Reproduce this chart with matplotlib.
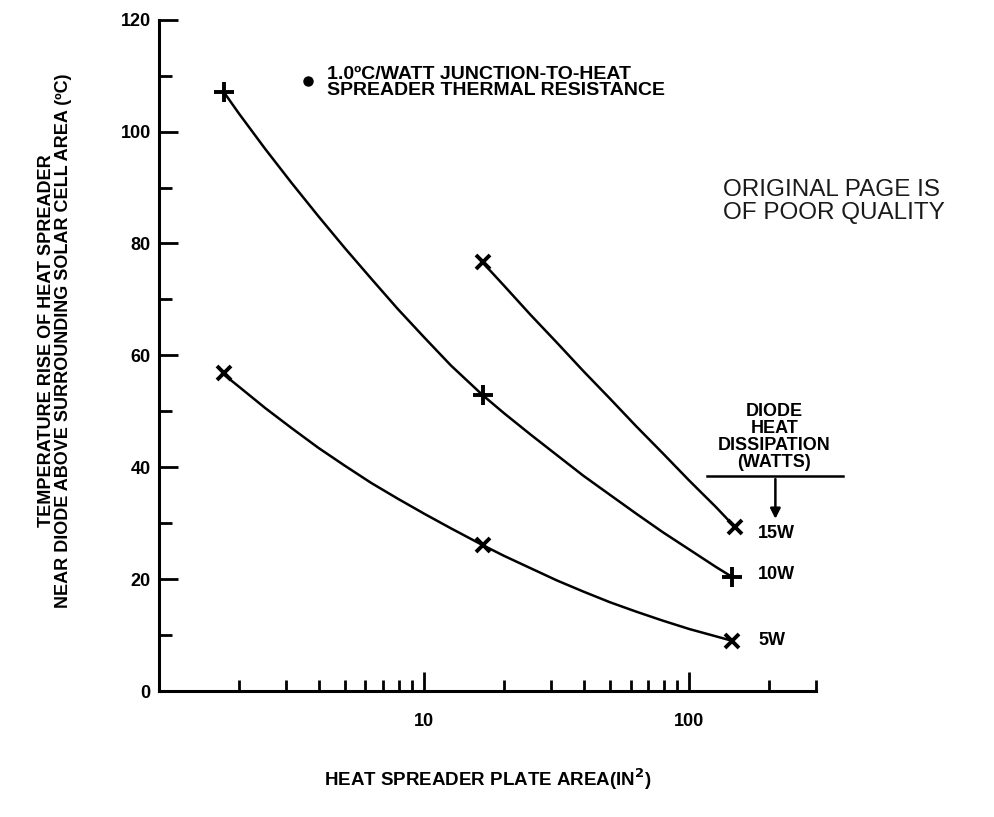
import matplotlib
matplotlib.use('Agg')
import matplotlib.pyplot as plt
from matplotlib.ticker import FixedLocator, NullFormatter

plt.rcParams['font.family'] = ['Liberation Sans Narrow', 'Liberation Sans', 'DejaVu Sans']
plt.rcParams['font.weight'] = 'bold'

# values (x = plate area in in^2, y = temperature rise in C)
marker_x = [1.75, 16.6, 145]
w10_marks = [107.1, 52.9, 20.4]
w15_marks_x = [16.6, 148]
w15_marks = [76.6, 29.4]
w5_marks = [56.8, 26.1, 9.0]

# traced points along each hand-drawn curve
w10_x = [1.75, 2.0, 2.51, 3.16, 3.98, 5.01, 6.31, 7.94, 10.0, 12.6, 16.6,
         19.95, 25.1, 31.6, 39.8, 50.1, 63.1, 79.4, 100, 125.9, 145]
w10_y = [107.1, 103.2, 96.9, 90.8, 84.9, 79.2, 73.7, 68.3, 63.2, 58.2, 52.9,
         49.7, 45.9, 42.2, 38.5, 35.1, 31.7, 28.4, 25.3, 22.2, 20.4]
w15_x = [16.6, 19.95, 25.1, 31.6, 39.8, 50.1, 63.1, 79.4, 100, 125.9, 148]
w15_y = [76.6, 72.5, 67.3, 62.3, 57.2, 52.3, 47.3, 42.5, 37.6, 32.9, 29.4]
w5_x = [1.73, 2.0, 2.51, 3.16, 3.98, 5.01, 6.31, 7.94, 10.0, 12.6, 16.6,
        19.95, 25.1, 31.6, 39.8, 50.1, 63.1, 79.4, 100, 125.9, 145]
w5_y = [56.8, 54.4, 50.6, 47.0, 43.5, 40.3, 37.2, 34.4, 31.7, 29.1, 26.1,
        24.2, 22.0, 19.8, 17.8, 15.9, 14.2, 12.6, 11.1, 9.8, 9.0]

curve_labels = ['15W', '10W', '5W']
label_y = [28.1, 20.9, 9.0]

x_major = [10, 100]
x_minor = [2, 3, 4, 5, 6, 7, 8, 9, 20, 30, 40, 50, 60, 70, 80, 90, 200, 300]
y_major = [0, 20, 40, 60, 80, 100, 120]
y_minor = [10, 30, 50, 70, 90, 110]

fig = plt.figure(figsize=(9.95, 8.17), dpi=100)
ax = fig.add_axes([0.16, 0.154, 0.66, 0.822])

ax.plot(w10_x, w10_y, color='black', lw=1.8)
ax.plot(w15_x, w15_y, color='black', lw=1.8)
ax.plot(w5_x, w5_y, color='black', lw=1.8)
ax.plot(marker_x, w10_marks, ls='none', marker='+', ms=14, mew=2.8, color='black')
ax.plot(w15_marks_x, w15_marks, ls='none', marker='x', ms=10, mew=2.8, color='black')
ax.plot(marker_x, w5_marks, ls='none', marker='x', ms=10, mew=2.8, color='black')

ax.set_xscale('log')
ax.set_xlim(1, 300)
ax.set_ylim(0, 120)
for s in ['top', 'right']:
    ax.spines[s].set_visible(False)
ax.spines['left'].set_linewidth(2.2)
ax.spines['bottom'].set_linewidth(2.2)

ax.xaxis.set_major_locator(FixedLocator(x_major))
ax.xaxis.set_minor_locator(FixedLocator(x_minor))
ax.xaxis.set_minor_formatter(NullFormatter())
ax.set_xticklabels([str(v) for v in x_major])
ax.set_yticks(y_major)
ax.set_yticks(y_minor, minor=True)
ax.tick_params(axis='x', which='major', direction='in', length=14, width=2, pad=16, labelsize=13)
ax.tick_params(axis='x', which='minor', direction='in', length=8, width=2)
ax.tick_params(axis='y', which='major', direction='in', length=14, width=2, pad=6, labelsize=13)
ax.tick_params(axis='y', which='minor', direction='in', length=9, width=2)

ax.set_xlabel('HEAT SPREADER PLATE AREA(IN$^{\\mathbf{2}}$)', fontsize=13.5, fontweight='bold', labelpad=26)
fig.text(0.055, 0.583, 'TEMPERATURE RISE OF HEAT SPREADER\nNEAR DIODE ABOVE SURROUNDING SOLAR CELL AREA (ºC)',
         rotation=90, ha='center', va='center', fontsize=13, fontweight='bold', linespacing=1.0)

# notes
ax.plot([3.65], [109], ls='none', marker='o', ms=6.5, color='black')
ax.text(4.3, 108.8, '1.0ºC/WATT JUNCTION-TO-HEAT\nSPREADER THERMAL RESISTANCE', ha='left', va='center',
        fontsize=14, fontweight='bold', linespacing=0.95)
ax.text(134, 87.5, 'ORIGINAL PAGE IS\nOF POOR QUALITY', ha='left', va='center', fontsize=17.5,
        fontweight='normal', family=['Liberation Sans', 'DejaVu Sans'], color='#1a1a1a',
        linespacing=1.05, clip_on=False)

ax.text(209, 45.4, 'DIODE\nHEAT\nDISSIPATION\n(WATTS)', ha='center', va='center', fontsize=13,
        fontweight='bold', linespacing=1.0, clip_on=False)
ax.plot([117, 381], [38.4, 38.4], color='black', lw=1.8, clip_on=False)
ax.annotate('', xy=(211, 30.3), xytext=(211, 38.4),
            arrowprops=dict(arrowstyle='-|>', color='black', lw=1.8, mutation_scale=15), annotation_clip=False)
for lab, ly in zip(curve_labels, label_y):
    ax.text(182, ly, lab, ha='left', va='center', fontsize=13, fontweight='bold', clip_on=False)

fig.savefig('out.png', dpi=100)
